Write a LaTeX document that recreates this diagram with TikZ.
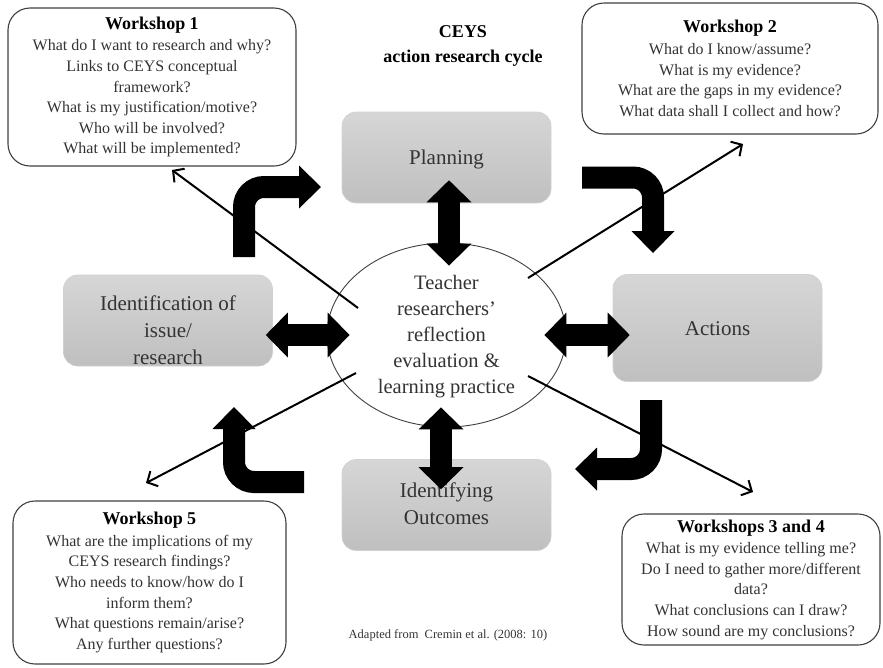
\documentclass[tikz,border=0pt]{standalone}
\usepackage{fontspec}
\setmainfont{Liberation Serif}
\usetikzlibrary{arrows.meta,shapes.geometric}
\definecolor{boxline}{HTML}{404040}
\definecolor{txt}{HTML}{333333}
\begin{document}
\begin{tikzpicture}[x=1pt,y=-1pt,
  wsbox/.style={draw=boxline, line width=1.1pt, rounded corners=22pt, fill=white, align=center, text=txt, font=\fontsize{16}{20.6}\selectfont, inner sep=0pt},
  graybox/.style={draw=black!18, line width=0.6pt, rounded corners=14pt, top color=black!16, bottom color=black!25, minimum width=209pt, minimum height=91pt, inner sep=0pt},
  boxtext/.style={align=center, text=txt, font=\fontsize{21}{27}\selectfont, inner sep=0pt},
  thinarrow/.style={line width=2pt, -{Straight Barb[length=8pt,width=17pt,line width=2pt]}},
  dblarrow/.style={line width=22pt, {Triangle[length=22pt,width=45pt,line width=0pt]}-{Triangle[length=22pt,width=45pt,line width=0pt]}},
  elbowarrow/.style={line width=22pt, rounded corners=20pt, -{Triangle[length=22pt,width=43pt,line width=0pt]}},
]
\useasboundingbox (0,0) rectangle (883,667);

% workshop boxes
\node[wsbox, minimum width=288pt, minimum height=158pt] (w1) at (152,87)
  {{\color{black}\bfseries\fontsize{18}{22}\selectfont Workshop 1}\\[1pt]
   What do I want to research and why?\\
   Links to CEYS conceptual\\
   framework?\\
   What is my justification/motive?\\
   Who will be involved?\\
   What will be implemented?};
\node[wsbox, minimum width=296pt, minimum height=131pt] (w2) at (730,68.5)
  {{\color{black}\bfseries\fontsize{18}{22}\selectfont Workshop 2}\\[1pt]
   What do I know/assume?\\
   What is my evidence?\\
   What are the gaps in my evidence?\\
   What data shall I collect and how?};
\node[wsbox, minimum width=273pt, minimum height=163pt] (w5) at (149.5,582.5)
  {{\color{black}\bfseries\fontsize{18}{22}\selectfont Workshop 5}\\[1pt]
   What are the implications of my\\
   CEYS research findings?\\
   Who needs to know/how do I\\
   inform them?\\
   What questions remain/arise?\\
   Any further questions?};
\node[wsbox, minimum width=258pt, minimum height=131pt] (w34) at (751,579.5)
  {{\color{black}\bfseries\fontsize{18}{22}\selectfont Workshops 3 and 4}\\[1pt]
   What is my evidence telling me?\\
   Do I need to gather more/different\\
   data?\\
   What conclusions can I draw?\\
   How sound are my conclusions?};

% title
\node[align=center, font=\bfseries\fontsize{18}{25}\selectfont] (title) at (463,46)
  {CEYS\\action research cycle};

% gray boxes
\node[graybox] (plan) at (446.5,157.5) {};
\node[boxtext] (plantext) at (446.5,159) {Planning};
\node[graybox] (ident) at (168,320.5) {};
\node[boxtext] (identtext) at (168,330) {Identification of\\issue/\\research};
\node[graybox, minimum height=107pt] (act) at (717.5,328) {};
\node[boxtext] (acttext) at (717.5,329) {Actions};
\node[graybox] (out) at (446.5,505) {};
\node[boxtext] (outtext) at (446.5,504) {Identifying\\Outcomes};

% ellipse
\node[ellipse, draw=boxline, line width=0.9pt, fill=white, minimum width=239pt, minimum height=184pt, inner sep=0pt] (ell) at (446.5,335) {};
\node[align=center, text=txt, font=\fontsize{20.5}{26}\selectfont, inner sep=0pt] (elltext) at (446.5,337)
  {Teacher\\researchers’\\reflection\\evaluation \&\\learning practice};

% double arrows
\draw[dblarrow, shorten <=-23pt, shorten >=-23pt] ([xshift=2.5pt]plan.south) -- ([xshift=2.5pt]ell.north);
\draw[dblarrow, shorten <=-20pt, shorten >=-30pt] ([xshift=-5.5pt]ell.south) -- ([xshift=-5.5pt]out.north);
\draw[dblarrow, shorten <=-7pt, shorten >=-23pt] (ident.east |- ell.west) -- (ell.west);
\draw[dblarrow, shorten <=-22pt, shorten >=-17pt] (ell.east) -- (act.west |- ell.east);

% elbow arrows
\coordinate (e1s) at (244,257);
\coordinate (e1c) at (244,187);
\coordinate (e1t) at (321,187);
\draw[elbowarrow] (e1s) -- (e1c) -- (e1t);
\coordinate (e2s) at (582,177.5);
\coordinate (e2c) at (653,177.5);
\coordinate (e2t) at (653,253);
\draw[elbowarrow] (e2s) -- (e2c) -- (e2t);
\coordinate (e3s) at (651,400);
\coordinate (e3c) at (651,469);
\coordinate (e3t) at (575,469);
\draw[elbowarrow] (e3s) -- (e3c) -- (e3t);
\coordinate (e4s) at (304,482);
\coordinate (e4c) at (234,482);
\coordinate (e4t) at (234,407);
\draw[elbowarrow] (e4s) -- (e4c) -- (e4t);

% thin arrows to workshops
\coordinate (t1s) at (358,308);
\coordinate (t1e) at (172,170);
\coordinate (t2s) at (528,278);
\coordinate (t2e) at (743,144);
\coordinate (t5s) at (356,373);
\coordinate (t5e) at (146,483);
\coordinate (t34s) at (528,376);
\coordinate (t34e) at (753,492);
\draw[thinarrow] (t1s) -- (t1e);
\draw[thinarrow] (t2s) -- (t2e);
\draw[thinarrow] (t5s) -- (t5e);
\draw[thinarrow] (t34s) -- (t34e);

% caption
\node[text=txt, font=\fontsize{12.5}{15}\selectfont] (cap) at (448,635) {Adapted from \ Cremin et al. (2008: 10)};
\end{tikzpicture}
\end{document}
